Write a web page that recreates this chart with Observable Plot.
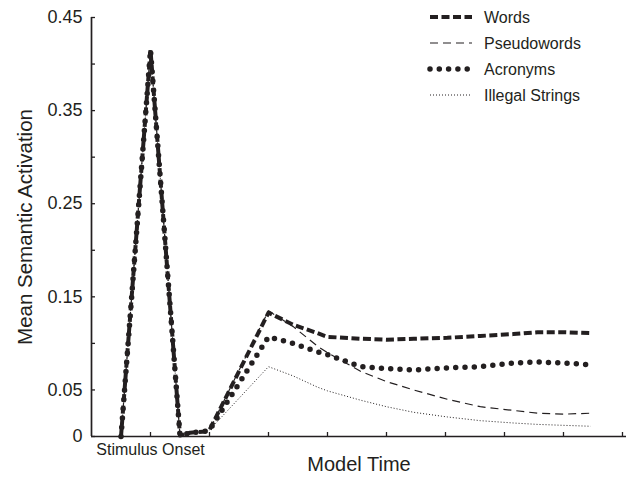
<!DOCTYPE html>
<html>
<head>
<meta charset="utf-8">
<script src="https://cdn.jsdelivr.net/npm/d3@7"></script>
<script src="https://cdn.jsdelivr.net/npm/@observablehq/plot@0.6"></script>
<style>
  html, body { margin: 0; padding: 0; background: #fff; }
  #wrap { position: relative; width: 627px; height: 477px; font-family: "Liberation Sans", Arial, sans-serif; }
  #legend { position: absolute; left: 0; top: 0; }
</style>
</head>
<body>
<div id="wrap"></div>
<script>
// ---- data ----
const seriesNames = ["Words", "Pseudowords", "Acronyms", "Illegal Strings"];
// shared response to stimulus onset (all conditions overlap)
const onsetTime  = [0.5, 1.0, 1.5, 1.67, 1.88, 2.0];
const onsetValue = [0, 0.415, 0.001, 0.004, 0.005, 0.007];
// later time course
const laterTime = [3.0, 3.42, 3.83, 4.0, 4.56, 5.0, 5.46, 6.03, 6.59, 7.15, 7.56, 8.0, 8.46];
const wordsValue       = [0.133, 0.120, 0.111, 0.107, 0.105, 0.104, 0.105, 0.106, 0.108, 0.110, 0.112, 0.112, 0.111];
const pseudowordsValue = [0.135, 0.118, 0.097, 0.090, 0.070, 0.059, 0.050, 0.040, 0.032, 0.028, 0.025, 0.024, 0.025];
const acronymsValue    = [0.107, 0.100, 0.091, 0.088, 0.075, 0.073, 0.0715, 0.0737, 0.075, 0.079, 0.080, 0.079, 0.077];
const illegalValue     = [0.075, 0.065, 0.053, 0.049, 0.039, 0.032, 0.026, 0.021, 0.017, 0.0145, 0.013, 0.012, 0.011];
const yTicks = [0, 0.05, 0.1, 0.15, 0.2, 0.25, 0.3, 0.35, 0.4, 0.45];
const yTickLabels = ["0", "0.05", "", "0.15", "", "0.25", "", "0.35", "", "0.45"];
const xTicks = [1, 2, 3, 4, 5, 6, 7, 8, 9];
const xTickLabels = ["Stimulus Onset", "", "", "", "", "", "", "", ""];

// ---- styles ----
const ink = "#231f20";
const styles = {
  "Words":           {strokeWidth: 4,   strokeDasharray: "8,3.5", strokeLinecap: "butt"},
  "Pseudowords":     {strokeWidth: 1.2, strokeDasharray: "8,5",   strokeLinecap: "butt"},
  "Acronyms":        {strokeWidth: 5.5, strokeDasharray: "0,9.3", strokeLinecap: "round"},
  "Illegal Strings": {strokeWidth: 1,   strokeDasharray: "1,2",   strokeLinecap: "butt"}
};
const valuesBySeries = {
  "Words": wordsValue, "Pseudowords": pseudowordsValue,
  "Acronyms": acronymsValue, "Illegal Strings": illegalValue
};

const rows = [];
for (const s of seriesNames) {
  onsetTime.forEach((t, i) => rows.push({series: s, t, v: onsetValue[i]}));
  laterTime.forEach((t, i) => rows.push({series: s, t, v: valuesBySeries[s][i]}));
}

const drawOrder = ["Illegal Strings", "Pseudowords", "Words", "Acronyms"];
const font = "'Liberation Sans', Arial, sans-serif";

const chart = Plot.plot({
  width: 627,
  height: 477,
  marginLeft: 91,
  marginRight: 1,
  marginTop: 17,
  marginBottom: 41,
  style: {fontFamily: font, color: ink, background: "#fff"},
  x: {domain: [0, 9.068], axis: null},
  y: {domain: [0, 0.45], axis: null},
  marks: [
    Plot.axisY({ticks: yTicks, tickFormat: d => yTickLabels[yTicks.indexOf(d)] ?? "", tickSize: -4, tickPadding: 13, fontSize: 18, label: null, stroke: ink, strokeWidth: 1.3, fill: ink}),
    Plot.axisX({ticks: xTicks, tickFormat: d => xTickLabels[xTicks.indexOf(d)] ?? "", tickSize: -4, tickPadding: 11, fontSize: 16, label: null, stroke: ink, strokeWidth: 1.3, fill: ink}),
    Plot.ruleX([0], {stroke: ink, strokeWidth: 1.7}),
    Plot.ruleY([0], {stroke: ink, strokeWidth: 1.7}),
    ...drawOrder.map(s => Plot.line(rows.filter(r => r.series === s), {
      x: "t", y: "v", stroke: ink, ...styles[s]
    })),
    Plot.text(["Model Time"], {frameAnchor: "bottom", dy: 28, fontSize: 20, fill: ink, lineAnchor: "middle"}),
    Plot.text(["Mean Semantic Activation"], {frameAnchor: "left", dx: -66, rotate: -90, fontSize: 20.5, fill: ink, lineAnchor: "middle", textAnchor: "middle"})
  ]
});

const wrap = document.getElementById("wrap");
wrap.appendChild(chart);

// ---- legend ----
const legend = d3.select(wrap).append("svg")
  .attr("id", "legend")
  .attr("width", 627).attr("height", 477)
  .style("pointer-events", "none");
const legendY = [17, 43, 69, 95];
seriesNames.forEach((s, i) => {
  const st = styles[s];
  legend.append("line")
    .attr("x1", 430).attr("x2", 472)
    .attr("y1", legendY[i]).attr("y2", legendY[i])
    .attr("stroke", ink)
    .attr("stroke-width", st.strokeWidth)
    .attr("stroke-dasharray", st.strokeDasharray)
    .attr("stroke-linecap", st.strokeLinecap);
  legend.append("text")
    .attr("x", 484).attr("y", legendY[i])
    .attr("dy", "0.35em")
    .attr("font-family", font)
    .attr("font-size", 16)
    .attr("fill", ink)
    .text(s);
});
</script>
</body>
</html>
